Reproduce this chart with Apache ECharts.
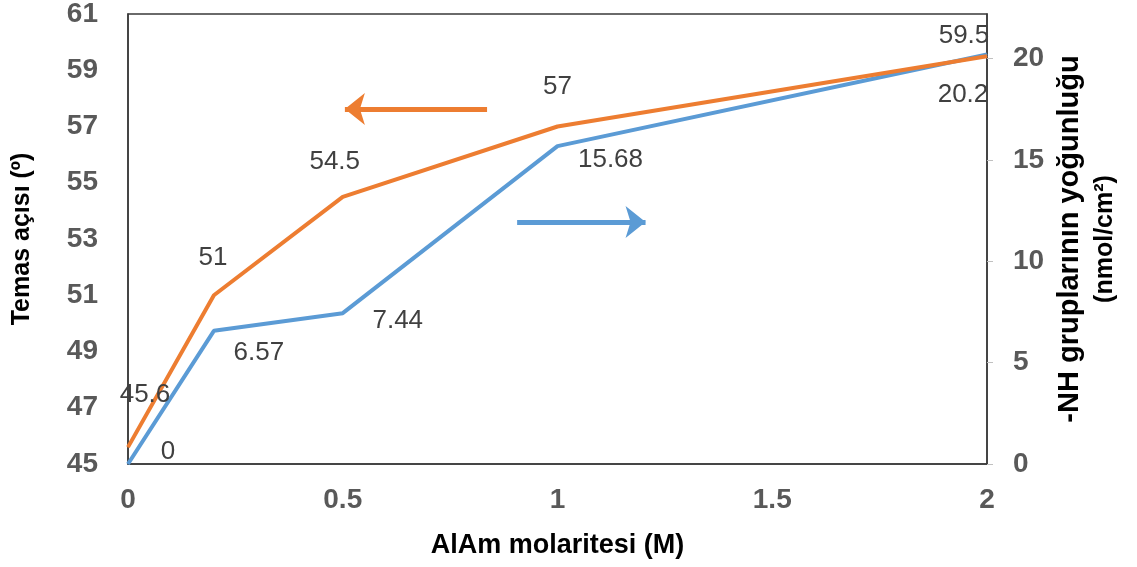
<!DOCTYPE html>
<html>
<head>
<meta charset="utf-8">
<script src="https://cdn.jsdelivr.net/npm/echarts@6/dist/echarts.min.js"></script>
<style>
  html, body { margin: 0; padding: 0; background: #fff; }
  #chart { width: 1137px; height: 567px; }
</style>
</head>
<body>
<div id="chart"></div>
<script>
// AlAm molarity (M)
const molarity = [0, 0.2, 0.5, 1, 2];
// Contact angle (degrees), left axis
const contactAngle = [45.6, 51, 54.5, 57, 59.5];
// -NH group density (nmol/cm2), right axis
const nhDensity = [0, 6.57, 7.44, 15.68, 20.2];

// label offsets (px) for each point's value label
const angleLabelOffsets = [[17, -52], [-1, -37], [-8, -35], [0, -40], [-23, -20]];
const nhLabelOffsets = [[40, -12], [45, 22], [55, 8], [53, 14], [-24, 40]];

// direction arrows telling which axis each curve belongs to (data coordinates)
const angleArrow = { y: 57.62, from: 0.836, to: 0.505 };
const nhArrow = { y: 11.94, from: 0.906, to: 1.205 };

const ORANGE = '#ED7D31';
const BLUE = '#5B9BD5';
const FONT = "'Liberation Sans', Arial, sans-serif";
const AXIS_COLOR = '#3a3a3a';

function points(xs, ys, offsets) {
  return xs.map((x, i) => ({ value: [x, ys[i]], label: { offset: offsets[i] } }));
}

const chart = echarts.init(document.getElementById('chart'), null, { renderer: 'canvas' });

const labelStyle = {
  show: true,
  position: 'inside',
  align: 'center',
  verticalAlign: 'middle',
  fontFamily: FONT,
  fontSize: 26,
  color: '#404040',
  formatter: p => String(p.value[1])
};

function arrow(color, a) {
  return {
    silent: true,
    symbol: ['none', 'arrow'],
    symbolSize: [24, 20],
    label: { show: false },
    lineStyle: { color: color, width: 5, type: 'solid' },
    data: [[{ coord: [a.from, a.y] }, { coord: [a.to, a.y] }]]
  };
}

chart.setOption({
  animation: false,
  backgroundColor: '#fff',
  grid: {
    left: 128, right: 150, top: 13, bottom: 103,
    show: true, borderColor: AXIS_COLOR, borderWidth: 1.5
  },
  xAxis: {
    type: 'value',
    min: 0, max: 2, interval: 0.5,
    name: 'AlAm molaritesi (M)',
    nameLocation: 'middle',
    nameGap: 68,
    nameTextStyle: { fontFamily: FONT, fontSize: 27, fontWeight: 'bold', color: '#000' },
    axisLine: { show: true, lineStyle: { color: AXIS_COLOR, width: 1.5 } },
    axisTick: { show: false },
    splitLine: { show: false },
    axisLabel: { fontFamily: FONT, fontSize: 28, fontWeight: 'bold', color: '#595959', margin: 22 }
  },
  yAxis: [
    {
      type: 'value',
      min: 45, max: 61, interval: 2,
      name: 'Temas açısı (º)',
      nameLocation: 'middle',
      nameGap: 93,
      nameRotate: 90,
      nameTextStyle: { fontFamily: FONT, fontSize: 25, fontWeight: 'bold', color: '#000' },
      axisLine: { show: true, lineStyle: { color: AXIS_COLOR, width: 1.5 } },
      axisTick: { show: false },
      splitLine: { show: false },
      axisLabel: { fontFamily: FONT, fontSize: 28, fontWeight: 'bold', color: '#595959', margin: 30 }
    },
    {
      type: 'value',
      position: 'right',
      min: 0, max: 22.2, interval: 5,
      name: '{a|-NH gruplarının yoğunluğu}\n{b|(nmol/cm²)}',
      nameLocation: 'middle',
      nameGap: 64,
      nameRotate: 90,
      nameTextStyle: {
        fontFamily: FONT, fontWeight: 'bold', color: '#000',
        rich: {
          a: { fontFamily: FONT, fontSize: 29, fontWeight: 'bold', color: '#000', lineHeight: 36 },
          b: { fontFamily: FONT, fontSize: 25, fontWeight: 'bold', color: '#000', lineHeight: 36 }
        }
      },
      axisLine: { show: true, lineStyle: { color: AXIS_COLOR, width: 1.5 } },
      axisTick: { show: true, inside: false, length: 6, lineStyle: { color: '#c0c0c0', width: 1 } },
      splitLine: { show: false },
      axisLabel: {
        fontFamily: FONT, fontSize: 28, fontWeight: 'bold', color: '#595959', margin: 26,
        showMaxLabel: false,
        formatter: v => (v % 5 === 0 ? String(v) : '')
      }
    }
  ],
  series: [
    {
      name: 'Temas açısı',
      type: 'line',
      yAxisIndex: 0,
      data: points(molarity, contactAngle, angleLabelOffsets),
      symbol: 'circle',
      symbolSize: 1,
      showSymbol: true,
      itemStyle: { color: ORANGE },
      lineStyle: { color: ORANGE, width: 4 },
      label: labelStyle,
      z: 3,
      markLine: arrow(ORANGE, angleArrow)
    },
    {
      name: '-NH yoğunluğu',
      type: 'line',
      yAxisIndex: 1,
      data: points(molarity, nhDensity, nhLabelOffsets),
      symbol: 'circle',
      symbolSize: 1,
      showSymbol: true,
      itemStyle: { color: BLUE },
      lineStyle: { color: BLUE, width: 4 },
      label: labelStyle,
      z: 2,
      markLine: arrow(BLUE, nhArrow)
    }
  ]
});
</script>
</body>
</html>
